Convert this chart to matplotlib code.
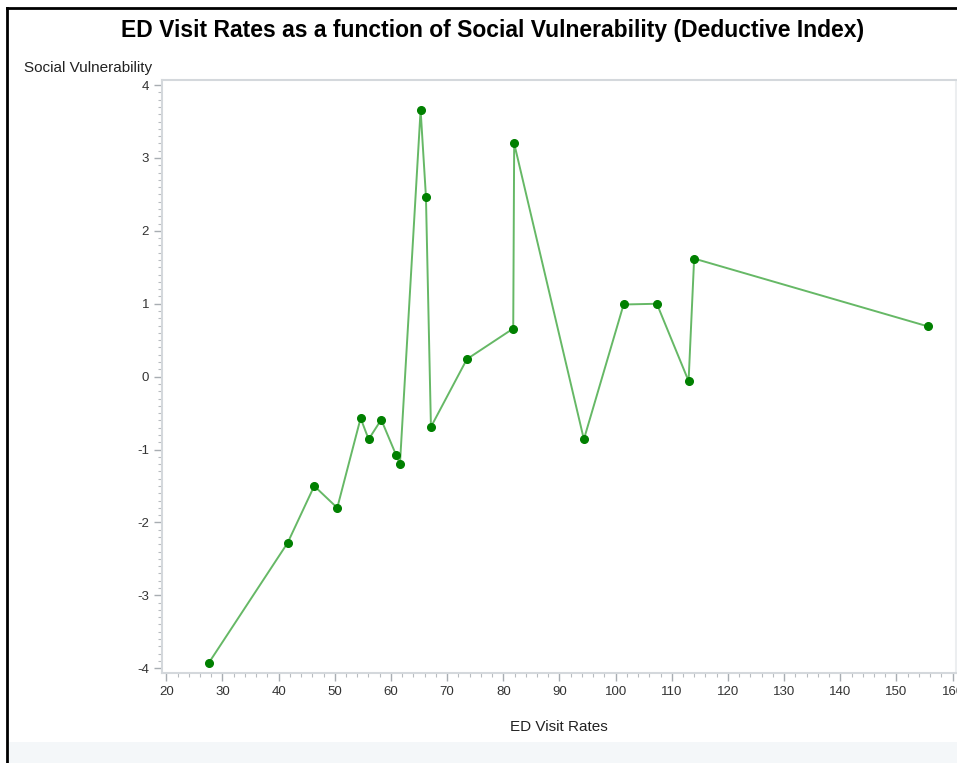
import matplotlib
matplotlib.use("Agg")
import matplotlib.pyplot as plt
from matplotlib.ticker import MultipleLocator
from matplotlib.patches import Rectangle
from matplotlib.lines import Line2D

plt.rcParams['font.family'] = ['Liberation Sans', 'DejaVu Sans']
plt.rcParams['axes.unicode_minus'] = False

# ED visit rate (x) vs social vulnerability index (y), in x order
ed_rates = [27.55, 41.61, 46.34, 50.44, 54.60, 56.03, 58.27, 60.89, 61.60,
            65.28, 66.23, 67.12, 73.52, 81.77, 81.94, 94.35, 101.42, 107.34,
            112.99, 113.98, 155.58]
social_vuln = [-3.93, -2.28, -1.50, -1.80, -0.57, -0.86, -0.59, -1.07, -1.20,
               3.66, 2.47, -0.69, 0.24, 0.66, 3.20, -0.86, 0.99, 1.00,
               -0.06, 1.62, 0.69]

x_ticks = list(range(20, 161, 10))
y_ticks = [-4, -3, -2, -1, 0, 1, 2, 3, 4]

W, H = 957, 763
fig = plt.figure(figsize=(W / 100, H / 100), dpi=100)

# page frame: black rule on the left and top, pale band at the bottom
fig.add_artist(Rectangle((9 / W, 0), 1 - 9 / W, 21 / H, transform=fig.transFigure,
                         facecolor="#f4f7f9", edgecolor="none"))
fig.add_artist(Line2D([7 / W, 7 / W], [0, 1 - 8 / H], transform=fig.transFigure,
                      color="black", lw=2))
fig.add_artist(Line2D([7 / W, 1], [1 - 8 / H, 1 - 8 / H], transform=fig.transFigure,
                      color="black", lw=2))

ax = fig.add_axes([161.5 / W, 1 - 673.3 / H, (956 - 161.5) / W, (673.3 - 80) / H])
ax.plot(ed_rates, social_vuln, color="#66b866", lw=1.4, zorder=2)
ax.plot(ed_rates, social_vuln, ls="none", marker="o", ms=5.5,
        color="#008000", mec="#008000", zorder=3)

ax.set_xlim(19.15, 160.6)
ax.set_ylim(-4.07, 4.07)
ax.set_xticks(x_ticks)
ax.set_yticks(y_ticks)
ax.xaxis.set_minor_locator(MultipleLocator(2))
ax.yaxis.set_minor_locator(MultipleLocator(0.1))

for side, sp in ax.spines.items():
    sp.set_color("#d4d8dc")
    sp.set_linewidth(1.5)
ax.spines["right"].set_color("#eceef0")

ax.tick_params(axis="both", which="major", length=6, width=1, color="#a8adb2",
               labelsize=9.5, labelcolor="#333333", pad=3)
ax.tick_params(axis="both", which="minor", length=3, width=0.8, color="#b8bcc0")

ax.set_xlabel("ED Visit Rates", fontsize=11, color="#222222", labelpad=16)
fig.text(152 / W, 1 - 68 / H, "Social Vulnerability", ha="right", va="center",
         fontsize=11, color="#222222")

fig.text(493 / W, 1 - 31 / H,
         "ED Visit Rates as a function of Social Vulnerability (Deductive Index)",
         ha="center", va="center", fontsize=16.5, fontweight="bold", color="black")

fig.savefig("out.png", dpi=100)
